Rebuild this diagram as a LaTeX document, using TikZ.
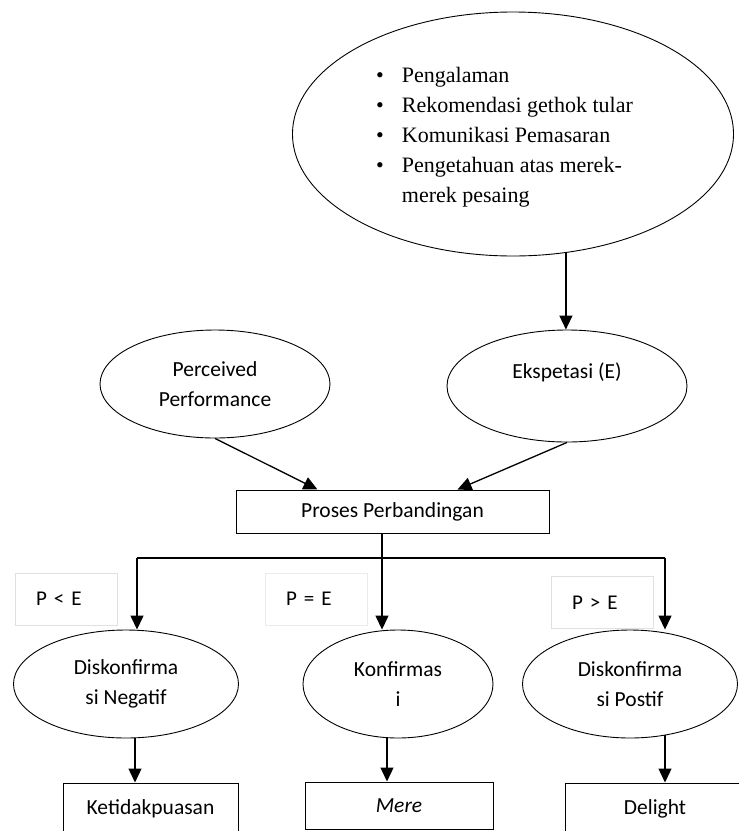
\documentclass[tikz,border=0pt]{standalone}
\usepackage{fontspec}
\setmainfont{Liberation Serif}
\newfontfamily\calfont{Carlito}
\usetikzlibrary{shapes.geometric,arrows.meta}
\begin{document}
\begin{tikzpicture}[x=1pt,y=-1pt,
 ell/.style={draw, ellipse, inner sep=0pt, line width=0.9pt, font=\calfont\fontsize{21.5}{30}\selectfont, align=center},
 box/.style={draw, rectangle, inner sep=0pt, line width=1pt, font=\calfont\fontsize{21.5}{30}\selectfont},
 arr/.style={line width=1.3pt, -{Triangle[width=13pt,length=14pt]}},
 lbl/.style={draw=black!12, line width=0.6pt, rectangle, inner xsep=21pt, inner ysep=0pt, text width=60pt, minimum height=52pt, align=left, font=\calfont\fontsize{21}{24}\selectfont},
 ln/.style={line width=1.3pt}
]
\useasboundingbox (0,0) rectangle (739,831);
\clip (0,0) rectangle (739,831);
\fill[white] (0,0) rectangle (739,831);

% top ellipse
\node[ell, minimum width=441pt, minimum height=244pt] (src) at (513,134) {};
\node[anchor=west, inner sep=0pt, font=\fontsize{22}{30}\selectfont] (srctext) at (376,136) {%
\begin{tabular}{@{}l@{\hspace{18pt}}l@{}}
\textbullet & Pengalaman\\
\textbullet & Rekomendasi gethok tular\\
\textbullet & Komunikasi Pemasaran\\
\textbullet & Pengetahuan atas merek-\\
 & merek pesaing
\end{tabular}};

% middle ellipses
\node[ell, minimum width=230pt, minimum height=108pt] (pp) at (215,384) {Perceived\\Performance};
\node[ell, minimum width=240pt, minimum height=112pt] (ek) at (567,386) {Ekspetasi (E)\\\mbox{}};

% comparison box
\node[box, minimum width=313pt, minimum height=43pt] (proses) at (392.5,511.5) {Proses Perbandingan};

% condition labels
\node[lbl] (lt) at (66,599) {P < E};
\node[lbl, draw=black!8] (eq) at (316,599) {P = E};
\node[lbl] (gt) at (602,602.5) {P > E};

% bottom ellipses
\node[ell, minimum width=225pt, minimum height=108pt] (dn) at (126,684) {Diskonfirma\\si Negatif};
\node[ell, minimum width=190pt, minimum height=108pt] (kf) at (398,684) {Konfirmas\\i};
\node[ell, minimum width=215pt, minimum height=108pt] (dp) at (630,684) {Diskonfirma\\si Postif};

% result boxes
\node[box, minimum width=175pt, minimum height=52pt] (ket) at (150.5,809) {Ketidakpuasan};
\node[box, minimum width=188pt, minimum height=47pt] (mere) at (399,805.5) {\textit{Mere}};
\node[box, minimum width=180pt, minimum height=52pt] (del) at (655,809) {Delight};

% connectors
\draw[arr] (src.-66) -- (src.-66 |- ek.north);
\draw[arr] (pp.south) -- ([xshift=82pt]proses.north west);
\draw[arr] (ek.south) -- ([xshift=-92pt]proses.north east);

\coordinate (bL) at (137,558);
\coordinate (bM) at (382,558);
\coordinate (bR) at (665,558);
\draw[ln] (bM |- proses.south) -- (bM);
\draw[ln] (bL) -- (bR);
\draw[arr] (bL) -- (bL |- dn.north);
\draw[arr] (bM) -- (bM |- kf.north);
\draw[arr] (bR) -- (bR |- dp.north);

\draw[arr] ([xshift=9pt]dn.south) -- ([xshift=9pt]dn.south |- ket.north);
\draw[arr] ([xshift=-11pt]kf.south) -- ([xshift=-11pt]kf.south |- mere.north);
\draw[arr] ([xshift=35pt,yshift=3pt]dp.south) -- ([xshift=35pt]dp.south |- del.north);
\end{tikzpicture}
\end{document}
